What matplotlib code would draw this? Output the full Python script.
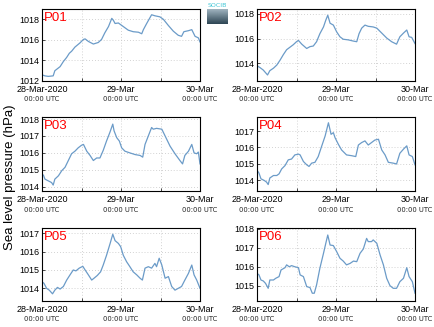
import numpy as np
import pandas as pd
import matplotlib
matplotlib.use("Agg")
import matplotlib.pyplot as plt

plt.rcParams['font.family'] = ['Liberation Sans', 'DejaVu Sans']

start = pd.Timestamp("2020-03-28 00:00")

# hours since 28-Mar-2020 00:00 UTC, and pressures (hPa)
p01_h = [0.0, 0.9, 1.9, 3.4, 3.9, 4.7, 5.5, 6.5, 7.5, 8.3, 9.0, 10.0, 11.5, 12.6, 13.1, 14.1, 15.6, 17.1, 18.1, 19.1,
         20.2, 21.2, 21.7, 22.2, 23.2, 24.7, 26.2, 27.7, 29.3, 30.3, 30.8, 31.8, 33.3, 34.3, 35.8, 36.9, 38.4, 39.9,
         41.4, 42.4, 43.1, 44.5, 45.5, 46.5, 47.5, 48.0]
p01_v = [1012.6, 1012.5, 1012.45, 1012.5, 1013.0, 1013.2, 1013.4, 1013.9, 1014.3, 1014.7, 1014.9, 1015.3, 1015.7,
         1016.05, 1016.1, 1015.85, 1015.6, 1015.75, 1016.05, 1016.7, 1017.3, 1018.1, 1017.9, 1017.6, 1017.65, 1017.3,
         1016.95, 1016.8, 1016.75, 1016.6, 1017.0, 1017.6, 1018.45, 1018.35, 1018.25, 1018.0, 1017.4, 1016.85,
         1016.45, 1016.35, 1016.8, 1016.9, 1017.0, 1016.35, 1016.2, 1015.8]

p02_h = [0.0, 0.9, 1.9, 3.2, 3.9, 5.0, 6.0, 7.0, 8.0, 9.0, 10.0, 11.0, 12.0, 12.6, 13.6, 15.1, 16.1, 17.1, 18.1, 19.1,
         20.2, 20.9, 21.5, 22.2, 23.2, 24.2, 25.2, 26.2, 27.7, 29.3, 30.3, 31.0, 31.8, 32.8, 33.8, 35.3, 36.4, 37.9,
         39.4, 40.9, 42.4, 43.4, 44.5, 45.5, 46.2, 47.0, 48.0]
p02_v = [1013.8, 1013.65, 1013.45, 1013.05, 1013.4, 1013.6, 1013.85, 1014.25, 1014.7, 1015.1, 1015.3, 1015.5, 1015.75,
         1015.85, 1015.55, 1015.2, 1015.35, 1015.4, 1015.75, 1016.4, 1016.95, 1017.5, 1017.9, 1017.25, 1017.1, 1016.55,
         1016.15, 1015.95, 1015.9, 1015.8, 1015.75, 1016.4, 1016.85, 1017.1, 1017.0, 1016.95, 1016.85, 1016.45,
         1016.05, 1015.75, 1015.55, 1016.15, 1016.45, 1016.7, 1016.15, 1016.1, 1015.6]

p03_h = [0.0, 0.4, 0.9, 1.9, 2.9, 3.4, 3.9, 5.0, 6.0, 7.0, 8.0, 9.0, 10.0, 11.0, 12.0, 12.6, 13.6, 14.6, 15.6, 16.6,
         17.6, 18.6, 19.6, 20.6, 21.5, 21.9, 22.7, 23.5, 24.2, 25.2, 26.7, 28.3, 29.8, 30.6, 31.3, 32.3, 33.3, 33.8,
         34.8, 36.4, 37.4, 38.9, 40.4, 41.9, 42.7, 43.4, 44.5, 45.5, 46.2, 47.0, 47.5, 48.0]
p03_v = [1014.65, 1014.7, 1014.45, 1014.35, 1014.25, 1014.1, 1014.45, 1014.65, 1014.95, 1015.15, 1015.55, 1015.95,
         1016.1, 1016.3, 1016.45, 1016.5, 1016.1, 1015.85, 1015.55, 1015.7, 1015.7, 1016.15, 1016.7, 1017.2, 1017.7,
         1017.3, 1016.9, 1016.7, 1016.3, 1016.1, 1016.0, 1015.9, 1015.85, 1015.75, 1016.5, 1017.0, 1017.5, 1017.4,
         1017.45, 1017.4, 1017.0, 1016.4, 1015.95, 1015.55, 1015.35, 1015.85, 1016.1, 1016.5, 1016.0, 1015.95,
         1016.05, 1015.35]

p04_h = [0.0, 0.6, 1.2, 2.2, 2.9, 3.4, 3.9, 5.0, 6.0, 6.7, 7.5, 8.5, 9.5, 10.5, 11.5, 12.6, 13.1, 14.1, 15.1, 15.8,
         16.6, 17.6, 18.6, 19.6, 20.7, 21.7, 22.5, 23.2, 23.7, 24.7, 25.7, 27.2, 28.8, 30.0, 30.8, 31.8, 32.8, 33.8,
         34.8, 35.8, 36.9, 37.9, 38.9, 39.9, 41.4, 42.4, 43.4, 44.5, 45.5, 46.2, 47.2, 48.0]
p04_v = [1014.62, 1014.45, 1014.1, 1014.0, 1013.9, 1013.75, 1014.15, 1014.3, 1014.3, 1014.4, 1014.7, 1014.9, 1015.25,
         1015.3, 1015.55, 1015.6, 1015.55, 1015.15, 1014.95, 1014.85, 1015.05, 1015.1, 1015.45, 1016.05, 1016.7,
         1017.5, 1016.8, 1016.9, 1016.6, 1016.2, 1015.85, 1015.55, 1015.5, 1015.45, 1016.15, 1016.3, 1016.4,
         1016.15, 1016.3, 1016.45, 1016.5, 1015.85, 1015.55, 1015.1, 1015.05, 1015.0, 1015.65, 1015.9, 1016.1,
         1015.55, 1015.45, 1014.95]

p05_h = [0.0, 0.6, 1.4, 2.2, 3.2, 3.9, 4.7, 5.5, 6.5, 7.5, 8.5, 9.5, 10.3, 11.3, 12.4, 13.1, 14.1, 15.1, 15.8, 16.8,
         17.8, 18.6, 19.6, 20.7, 21.5, 22.2, 23.2, 23.9, 24.7, 25.7, 26.7, 27.7, 28.8, 29.8, 30.5, 31.3, 32.3, 33.3,
         34.3, 34.8, 35.6, 36.4, 37.4, 38.4, 39.4, 40.4, 41.4, 42.4, 43.4, 44.5, 45.5, 46.2, 47.0, 48.0]
p05_v = [1014.36, 1014.27, 1014.0, 1013.9, 1013.7, 1013.9, 1014.05, 1013.96, 1014.1, 1014.45, 1014.73, 1015.0,
         1014.95, 1015.1, 1015.2, 1015.0, 1014.73, 1014.45, 1014.55, 1014.7, 1014.9, 1015.27, 1015.8, 1016.45,
         1016.95, 1016.6, 1016.45, 1016.27, 1015.8, 1015.45, 1015.18, 1014.9, 1014.73, 1014.55, 1014.45, 1015.1,
         1015.18, 1015.1, 1015.36, 1015.18, 1015.64, 1015.27, 1014.55, 1014.64, 1014.1, 1013.9, 1014.0, 1014.1,
         1014.45, 1014.82, 1015.27, 1014.73, 1014.45, 1014.0]

p06_h = [0.0, 0.6, 1.2, 1.9, 2.6, 3.4, 3.9, 5.0, 5.7, 6.7, 7.3, 8.5, 9.0, 9.8, 10.5, 11.5, 12.6, 13.1, 14.1, 15.1,
         16.1, 16.8, 17.4, 18.1, 19.1, 20.2, 20.9, 21.5, 22.2, 23.2, 24.2, 25.2, 26.2, 27.2, 28.3, 29.3, 30.3, 31.3,
         32.3, 33.3, 33.8, 34.8, 35.3, 36.4, 37.4, 38.4, 39.4, 40.4, 41.4, 42.4, 43.4, 44.5, 45.5, 46.2, 47.2, 48.0]
p06_v = [1015.65, 1015.57, 1015.3, 1015.25, 1015.12, 1014.86, 1015.3, 1015.3, 1015.39, 1015.48, 1015.83, 1015.95,
         1016.1, 1016.0, 1016.06, 1016.0, 1015.95, 1015.57, 1015.48, 1014.95, 1014.9, 1014.6, 1014.6, 1015.04,
         1015.92, 1016.71, 1017.24, 1017.68, 1017.15, 1017.12, 1016.8, 1016.45, 1016.3, 1016.1, 1016.18, 1016.3,
         1016.27, 1016.71, 1016.94, 1017.5, 1017.33, 1017.33, 1017.42, 1017.24, 1016.62, 1016.1, 1015.39, 1015.0,
         1014.86, 1014.86, 1015.21, 1015.39, 1015.95, 1015.48, 1015.21, 1014.6]

names = ["P01", "P02", "P03", "P04", "P05", "P06"]
hours = [p01_h, p02_h, p03_h, p04_h, p05_h, p06_h]
values = [p01_v, p02_v, p03_v, p04_v, p05_v, p06_v]
ylims = [(1012.0, 1019.04), (1012.56, 1018.43), (1013.75, 1018.12),
         (1013.36, 1017.85), (1013.33, 1017.29), (1014.21, 1018.05)]
yticks = [[1012, 1014, 1016, 1018], [1014, 1016, 1018], [1014, 1015, 1016, 1017, 1018],
          [1014, 1015, 1016, 1017], [1014, 1015, 1016, 1017], [1015, 1016, 1017, 1018]]
xtick_labels = ["28-Mar-2020", "29-Mar", "30-Mar"]
xtick_sub = "00:00 UTC"
ylabel = "Sea level pressure (hPa)"

W, H = 434, 327
fig = plt.figure(figsize=(W / 100, H / 100), dpi=100)

cols = [42, 257]
rows = [(8.7, 81), (117, 191), (228, 300.6)]
axw = 158

line_color = "#6b9bc8"

for i in range(6):
    r, c = divmod(i, 2)
    top, bot = rows[r]
    ax = fig.add_axes([cols[c] / W, 1 - bot / H, axw / W, (bot - top) / H])
    t = start + pd.to_timedelta(hours[i], unit="h")
    ax.plot(t, values[i], color=line_color, lw=0.9)
    ax.set_xlim(start, start + pd.Timedelta(hours=48))
    ax.set_ylim(*ylims[i])
    major = [start + pd.Timedelta(hours=k) for k in (0, 24, 48)]
    minor = [start + pd.Timedelta(hours=k) for k in (12, 36)]
    ax.set_xticks(major)
    ax.set_xticks(minor, minor=True)
    ax.set_xticklabels(xtick_labels, fontsize=6.5)
    ax.set_yticks(yticks[i])
    ax.set_yticklabels([str(v) for v in yticks[i]], fontsize=6.5)
    ax.grid(True, which="both", axis="x", color="#c4c4c4", ls=(0, (1, 2.5)), lw=0.6)
    ax.grid(True, which="major", axis="y", color="#c4c4c4", ls=(0, (1, 2.5)), lw=0.6)
    ax.tick_params(axis="both", which="both", direction="in", length=2, width=0.5, pad=2)
    ax.tick_params(axis="x", which="major", pad=3)
    for s in ax.spines.values():
        s.set_linewidth(0.8)
    for m in major:
        ax.text(m, -0.255, xtick_sub, transform=ax.get_xaxis_transform(),
                ha="center", va="center", fontsize=4.9, color="#222222",
                family=["DejaVu Sans"])
    ax.text(0.015, 0.96, names[i], transform=ax.transAxes, color="red",
            fontsize=9.5, ha="left", va="top")

fig.text(10 / W, 1 - 177 / H, ylabel, rotation=90, ha="center", va="center", fontsize=9.5)

# small logo
lax = fig.add_axes([207 / W, 1 - 24 / H, 21 / W, 15 / H])
grad = np.linspace(0, 1, 32).reshape(-1, 1)
cmap = matplotlib.colors.LinearSegmentedColormap.from_list("g", ["#9fb3bf", "#2e4654"])
lax.imshow(grad, aspect="auto", cmap=cmap, extent=(0, 1, 0, 1))
lax.set_axis_off()
fig.text(217.5 / W, 1 - 5.5 / H, "SOCIB", color="#3fc6d6", fontsize=4.5,
         ha="center", va="center", family=["DejaVu Sans"])

fig.savefig("out.png", dpi=100)
